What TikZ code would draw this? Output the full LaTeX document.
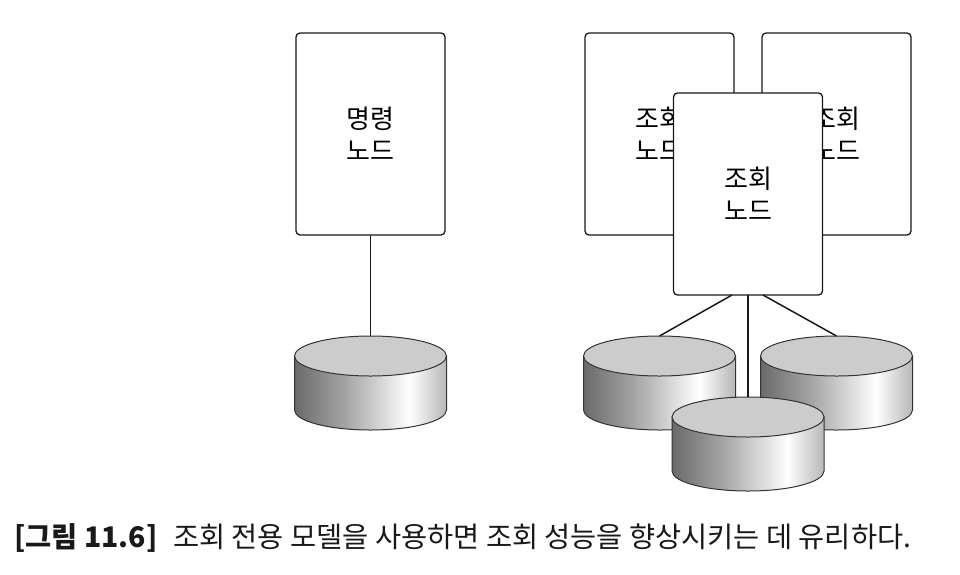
\documentclass[tikz,border=0pt]{standalone}
\usepackage{fontspec}
\setmainfont{Noto Sans CJK KR}
\usetikzlibrary{positioning,calc}
\pgfdeclarehorizontalshading{drumside}{100bp}{color(0bp)=(black!80); color(18bp)=(black!68); color(42bp)=(black!35); color(63bp)=(white); color(82bp)=(black!45); color(100bp)=(black!76)}
\colorlet{drumtop}{black!20}

\begin{document}
\begin{tikzpicture}[x=1pt, y=1pt, node distance=140pt,
	nodebox/.style={rectangle, rounded corners=4pt, draw=black!90, line width=1.3pt, fill=white, outer sep=0pt,
		minimum width=149pt, minimum height=202pt, align=center, font=\fontsize{26}{32}\selectfont},
	link/.style={draw=black!90, line width=1.5pt},
	drum/.pic={
		\shadedraw[shading=drumside, draw=black!80, line width=1pt] (-76,0) -- (-76,-54) arc[start angle=180, end angle=360, x radius=76, y radius=20] -- (76,0) -- cycle;
		\draw[fill=drumtop, draw=black!80, line width=1pt] (0,0) ellipse[x radius=76, y radius=20];
		\coordinate (-top) at (0,20);
	}]
	\useasboundingbox (0,0) rectangle (960,-574);
	\node[nodebox] (cmd) at (370.5,-134) {명령\\노드};
	\node[nodebox] (qryL) [right=of cmd] {조회\\노드};
	\node[nodebox] (qryR) [right=28pt of qryL] {조회\\노드};
	\node[nodebox] (qryF) at ($(qryL)!0.5!(qryR)+(0,-60)$) {조회\\노드};
	
	\pic (dbC) at ($(cmd.south)+(0,-121)$) {drum};
	\pic (dbL) at ($(qryL.south)+(0,-121)$) {drum};
	\pic (dbR) at ($(qryR.south)+(0,-121)$) {drum};
	\pic (dbF) at ($(qryF.south)+(0,-122)$) {drum};
	
	\path[link] (cmd.south) -- (dbC-top);
	\path[link] ([xshift=-16pt]qryF.south) -- (dbL-top);
	\path[link] (qryF.south) -- (dbF-top);
	\path[link] ([xshift=15pt]qryF.south) -- (dbR-top);
	
	\node[anchor=west, inner sep=0pt, font=\fontsize{28.4}{32}\selectfont, text=black!90] (caption) at (14,-538)
		{\textbf{[그림 11.6]}\hspace{0.55em}조회 전용 모델을 사용하면 조회 성능을 향상시키는 데 유리하다.};
\end{tikzpicture}
\end{document}
